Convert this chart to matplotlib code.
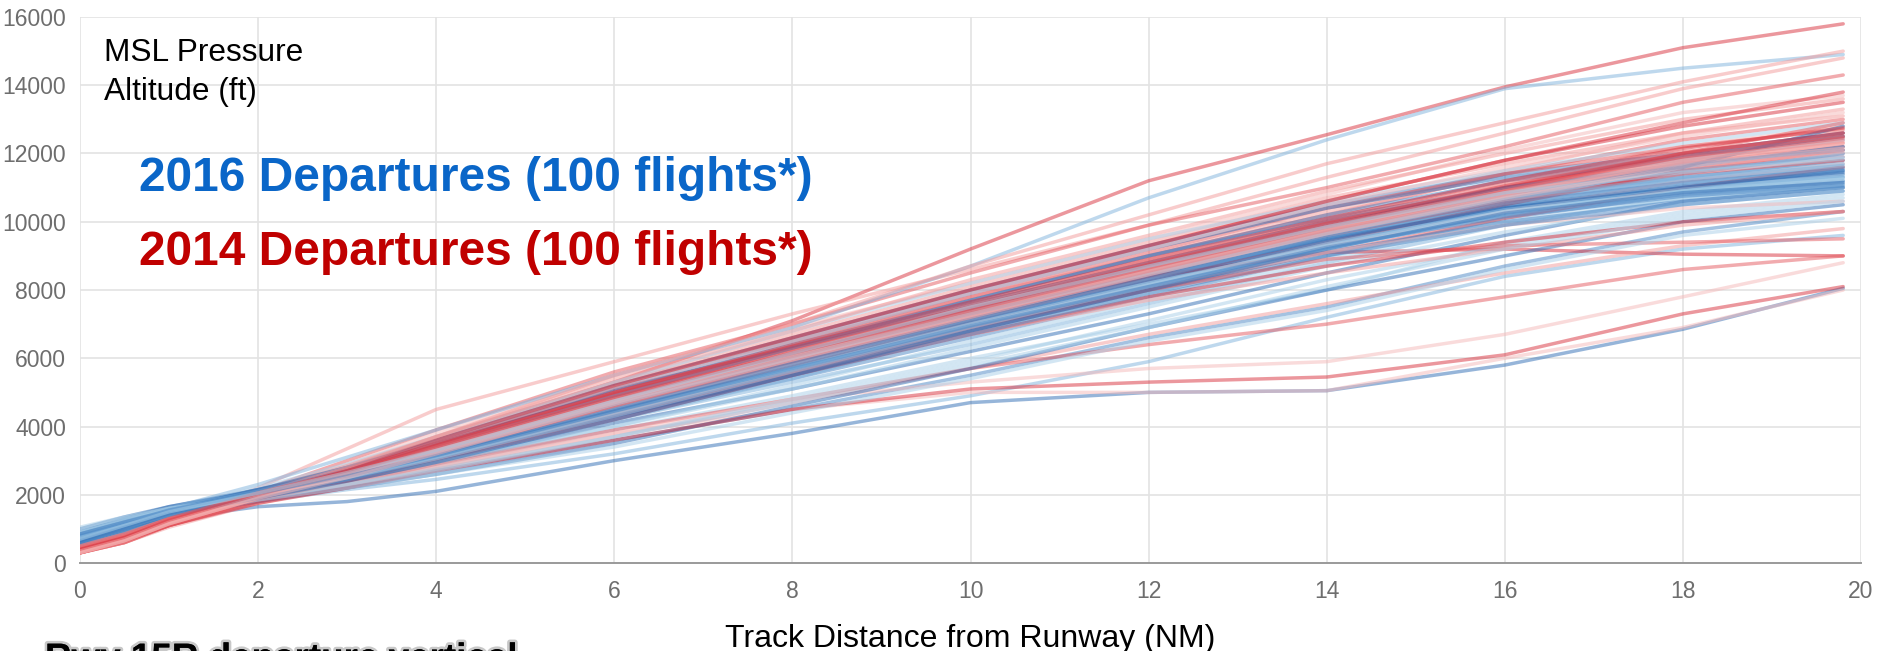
import matplotlib
matplotlib.use("Agg")
import matplotlib.pyplot as plt
import matplotlib.patheffects as pe

plt.rcParams['font.family'] = ['Liberation Sans', 'DejaVu Sans']

# Track distance (NM) at which each altitude profile is sampled
distance_nm = [0, 0.5, 1, 2, 3, 4, 6, 8, 10, 12, 14, 16, 18, 19.8]

# 2016 departures: MSL pressure altitude (ft) at each distance
alt_2016 = [
    [600, 950, 1300, 1650, 1800, 2100, 3000, 3800, 4700, 5000, 5050, 5800, 6850, 8050],
    [700, 1050, 1400, 1800, 2150, 2450, 3200, 4100, 4900, 5900, 7200, 8400, 9200, 9600],
    [800, 1150, 1450, 1850, 2250, 2700, 3600, 4500, 5500, 6600, 7500, 8700, 9700, 10300],
    [550, 950, 1350, 1850, 2300, 2800, 3900, 4900, 6000, 7000, 8000, 9400, 10300, 10800],
    [650, 1100, 1500, 1900, 2350, 2900, 4100, 5100, 6200, 7300, 8500, 9600, 10600, 11000],
    [900, 1250, 1550, 1950, 2400, 3000, 4200, 5300, 6400, 7600, 8800, 9900, 10700, 11100],
    [600, 1000, 1450, 1900, 2450, 3050, 4300, 5400, 6600, 7800, 9000, 10100, 10800, 11200],
    [750, 1150, 1500, 2000, 2500, 3100, 4350, 5500, 6700, 7900, 9200, 10300, 10900, 11300],
    [500, 900, 1400, 1950, 2400, 3000, 4400, 5600, 6900, 8100, 9300, 10400, 11000, 11400],
    [850, 1200, 1550, 2000, 2550, 3200, 4500, 5700, 7000, 8200, 9400, 10500, 11100, 11500],
    [650, 1050, 1450, 1950, 2500, 3150, 4550, 5800, 7100, 8300, 9500, 10600, 11200, 11600],
    [700, 1100, 1500, 2050, 2600, 3250, 4600, 5900, 7200, 8400, 9600, 10500, 11000, 11300],
    [1000, 1350, 1650, 2100, 2600, 3300, 4700, 6000, 7300, 8500, 9700, 10700, 11300, 11800],
    [600, 1000, 1400, 1950, 2450, 3000, 4200, 5400, 6800, 8000, 9300, 10400, 10900, 11200],
    [800, 1200, 1550, 2050, 2650, 3350, 4800, 6100, 7400, 8600, 9800, 10800, 11400, 12000],
    [550, 950, 1400, 1900, 2350, 2850, 4000, 5200, 6500, 7700, 8900, 10000, 10700, 11000],
    [900, 1300, 1650, 2150, 2700, 3450, 4900, 6300, 7600, 8800, 10000, 11000, 11600, 12200],
    [700, 1100, 1500, 2000, 2500, 3100, 4400, 5700, 7000, 8200, 9400, 10200, 10800, 11100],
    [750, 1150, 1550, 2100, 2750, 3500, 5000, 6400, 7700, 9000, 10200, 11200, 11800, 12400],
    [650, 1050, 1500, 2200, 2900, 3700, 5300, 6800, 8200, 9500, 10600, 11500, 12300, 12900],
    [850, 1250, 1600, 2150, 2700, 3300, 4600, 5900, 7200, 8400, 9500, 10400, 11000, 11500],
    [700, 1150, 1600, 2300, 3100, 3900, 5500, 6900, 8700, 10700, 12400, 13900, 14500, 14900],
    [600, 1050, 1500, 2100, 2800, 3600, 5200, 6600, 8000, 9300, 10500, 11400, 12000, 12600],
    [950, 1300, 1600, 2000, 2450, 2950, 4000, 5100, 6300, 7500, 8700, 9700, 10500, 10900],
    [500, 900, 1350, 1800, 2200, 2600, 3500, 4600, 5700, 6900, 8000, 9000, 10000, 10500],
    [800, 1200, 1550, 2050, 2550, 3200, 4500, 5800, 7100, 8300, 9600, 10700, 11300, 11700],
    [600, 1000, 1450, 2000, 2550, 3150, 4400, 5600, 6800, 8000, 9100, 10000, 10600, 11000],
    [750, 1100, 1450, 1900, 2300, 2750, 3700, 4800, 5900, 7100, 8300, 9300, 10200, 10700],
    [650, 1100, 1550, 2150, 2800, 3550, 5100, 6500, 7900, 9200, 10400, 11300, 11900, 12500],
    [900, 1250, 1600, 2100, 2650, 3300, 4700, 6100, 7500, 8700, 9900, 10900, 11500, 11900],
    [550, 1000, 1450, 2000, 2500, 3100, 4300, 5500, 6700, 7900, 9000, 9900, 10500, 10900],
    [700, 1050, 1400, 1850, 2200, 2600, 3400, 4400, 5400, 6500, 7400, 8600, 9600, 10100],
    [850, 1200, 1500, 2000, 2600, 3250, 4650, 6000, 7300, 8500, 9700, 10800, 11600, 12800],
    [600, 1000, 1450, 1950, 2450, 3050, 4300, 5600, 6900, 8100, 9200, 10200, 10900, 11300],
    [750, 1150, 1550, 2100, 2700, 3400, 4900, 6300, 7700, 9000, 10100, 11000, 11700, 12100],
    [1050, 1350, 1600, 1950, 2300, 2700, 3700, 4700, 5800, 6900, 8100, 9200, 10100, 10600],
    [700, 1100, 1500, 2000, 2500, 3100, 4450, 5750, 7050, 8250, 9450, 10450, 11050, 11450],
    [800, 1150, 1500, 1950, 2450, 3050, 4350, 5650, 6950, 8150, 9350, 10350, 10950, 11350],
    [650, 1050, 1450, 1950, 2500, 3150, 4500, 5850, 7150, 8350, 9550, 10550, 11150, 11550],
    [900, 1250, 1550, 2000, 2500, 3100, 4400, 5700, 7000, 8200, 9300, 10300, 10900, 11250],
    [600, 1000, 1400, 1900, 2400, 2950, 4200, 5500, 6800, 8000, 9200, 10250, 10850, 11150],
    [750, 1150, 1550, 2050, 2600, 3250, 4650, 6000, 7300, 8450, 9650, 10650, 11250, 11650],
    [850, 1200, 1550, 2050, 2550, 3150, 4450, 5700, 6950, 8100, 9250, 10150, 10750, 11050],
    [700, 1100, 1500, 2050, 2650, 3300, 4750, 6150, 7500, 8700, 9850, 10850, 11450, 11850],
]

# 2014 departures: MSL pressure altitude (ft) at each distance
alt_2014 = [
    [350, 700, 1200, 2000, 2800, 3700, 5300, 7100, 9200, 11200, 12550, 13950, 15100, 15800],
    [400, 750, 1250, 2200, 3350, 4500, 5900, 7300, 8600, 9900, 11300, 12600, 13900, 14800],
    [300, 650, 1150, 2100, 3000, 3900, 5600, 7000, 8500, 9900, 11000, 12200, 13500, 14300],
    [450, 800, 1300, 2100, 2900, 3800, 5500, 6900, 8200, 9500, 10800, 12100, 13200, 13700],
    [350, 700, 1200, 2000, 2700, 3500, 5200, 6600, 8000, 9300, 10600, 11800, 12800, 13500],
    [400, 750, 1250, 2050, 2750, 3600, 5300, 6500, 7800, 9000, 10300, 11500, 12600, 13300],
    [300, 650, 1150, 1950, 2650, 3400, 5000, 6400, 7700, 9000, 10200, 11400, 12400, 13000],
    [500, 850, 1300, 2000, 2600, 3300, 4900, 6300, 7600, 8900, 10100, 11200, 12200, 12800],
    [350, 700, 1200, 1950, 2600, 3350, 4950, 6200, 7500, 8800, 10000, 11000, 11900, 12500],
    [450, 800, 1250, 2000, 2650, 3400, 4800, 6100, 7400, 8700, 9900, 10900, 11800, 12300],
    [300, 600, 1100, 1900, 2550, 3250, 4700, 6000, 7300, 8600, 9800, 10800, 11700, 12200],
    [400, 750, 1200, 1950, 2500, 3200, 4600, 5900, 7200, 8500, 9700, 10700, 11600, 12000],
    [350, 700, 1200, 2000, 2700, 3500, 5100, 6300, 7500, 8700, 9900, 11000, 12000, 12600],
    [500, 850, 1300, 2050, 2700, 3450, 4900, 6200, 7500, 8700, 9600, 10600, 11500, 11900],
    [300, 650, 1150, 1900, 2500, 3150, 4500, 5800, 7100, 8400, 9600, 10600, 11400, 11800],
    [400, 750, 1250, 2000, 2550, 3200, 4550, 5800, 7000, 8200, 9300, 10300, 11200, 11700],
    [350, 700, 1200, 1950, 2600, 3300, 4700, 6000, 7200, 8300, 9400, 10500, 11500, 12100],
    [450, 800, 1300, 2100, 2800, 3650, 5300, 6700, 8100, 9400, 10700, 11700, 12600, 13100],
    [300, 600, 1100, 1850, 2400, 3000, 4200, 5500, 6800, 8000, 9100, 10100, 11000, 11600],
    [350, 650, 1100, 1800, 2300, 2800, 3800, 4500, 5000, 5000, 5050, 6000, 6900, 8000],
    [400, 750, 1200, 1950, 2600, 3300, 4700, 6000, 7300, 8400, 9100, 9200, 9050, 9000],
    [300, 600, 1050, 1750, 2250, 2750, 3700, 4700, 5700, 6700, 7600, 8500, 9300, 9800],
    [350, 650, 1100, 1800, 2300, 2900, 3900, 4800, 5700, 6400, 7000, 7800, 8600, 9000],
    [400, 700, 1150, 1800, 2300, 2850, 3800, 4800, 5300, 5700, 5900, 6700, 7800, 8800],
    [350, 650, 1100, 1750, 2200, 2700, 3600, 4500, 5100, 5300, 5450, 6100, 7300, 8100],
    [400, 750, 1250, 2100, 2850, 3700, 5400, 6800, 8300, 9600, 10900, 12000, 13000, 13600],
    [300, 650, 1150, 1950, 2650, 3450, 5000, 6400, 7800, 9100, 10400, 11400, 12200, 12700],
    [450, 800, 1250, 1950, 2550, 3250, 4600, 5800, 7000, 8100, 9100, 9900, 10400, 10600],
    [350, 700, 1200, 1900, 2450, 3050, 4300, 5500, 6700, 7800, 8700, 9400, 10000, 10300],
    [400, 750, 1200, 1900, 2500, 3100, 4400, 5600, 6700, 7700, 8500, 9200, 9900, 10300],
    [300, 600, 1100, 1850, 2400, 3050, 4350, 5600, 6900, 8000, 8900, 9300, 9400, 9500],
    [500, 850, 1300, 2050, 2750, 3550, 5150, 6500, 7900, 9200, 10500, 11600, 12500, 13200],
    [350, 700, 1200, 2000, 2750, 3600, 5200, 6600, 8000, 9300, 10600, 11800, 12900, 13800],
    [400, 750, 1250, 2050, 2800, 3700, 5500, 7000, 8700, 10200, 11700, 12900, 14100, 15000],
    [300, 650, 1150, 1900, 2500, 3200, 4600, 5900, 7200, 8500, 9700, 10900, 12000, 12900],
    [450, 800, 1250, 2000, 2600, 3300, 4700, 6000, 7300, 8600, 9800, 10800, 11800, 12400],
    [400, 750, 1250, 2000, 2650, 3400, 4850, 6150, 7450, 8750, 9950, 11050, 12000, 12600],
    [350, 700, 1200, 1950, 2600, 3350, 4800, 6100, 7350, 8600, 9800, 10900, 11850, 12350],
    [450, 800, 1300, 2050, 2700, 3450, 4950, 6250, 7550, 8800, 10000, 11100, 12050, 12500],
    [300, 650, 1150, 1900, 2550, 3250, 4700, 6000, 7250, 8500, 9700, 10750, 11700, 12150],
    [400, 750, 1250, 2000, 2700, 3500, 5000, 6350, 7650, 8900, 10100, 11200, 12150, 12750],
    [350, 700, 1200, 1950, 2600, 3300, 4750, 6050, 7300, 8550, 9750, 10800, 11750, 12300],
    [500, 850, 1300, 2050, 2650, 3400, 4850, 6150, 7400, 8650, 9850, 10950, 11900, 12450],
    [300, 650, 1150, 1900, 2500, 3200, 4650, 5950, 7200, 8450, 9650, 10700, 11600, 12050],
]

x_ticks = [0, 2, 4, 6, 8, 10, 12, 14, 16, 18, 20]
y_ticks = [0, 2000, 4000, 6000, 8000, 10000, 12000, 14000, 16000]

blue_shades = ['#2f6db5', '#7fb2dc', '#4a86c5', '#a9cfe8']
red_shades = ['#d9303c', '#f39a9a', '#e5585f', '#f5b8b8']

W, H = 1881, 651
fig = plt.figure(figsize=(W / 100, H / 100), dpi=100)
ax = fig.add_axes([80 / W, 88 / H, (1861 - 80) / W, (563 - 17) / H])

n = max(len(alt_2016), len(alt_2014))
for i in range(n):
    if i < len(alt_2016):
        ax.plot(distance_nm, alt_2016[i], color=blue_shades[i % 4],
                lw=2.5, alpha=0.5, solid_capstyle='round',
                solid_joinstyle='round')
    if i < len(alt_2014):
        ax.plot(distance_nm, alt_2014[i], color=red_shades[i % 4],
                lw=2.5, alpha=0.5, solid_capstyle='round',
                solid_joinstyle='round')

ax.set_xlim(0, 20)
ax.set_ylim(0, 16000)
ax.set_xticks(x_ticks)
ax.set_yticks(y_ticks)
ax.set_xticklabels([str(v) for v in x_ticks])
ax.set_yticklabels([str(v) for v in y_ticks])
ax.grid(True, color='#e3e3e3', lw=1.2)
ax.set_axisbelow(True)
for side in ['top', 'right', 'left']:
    ax.spines[side].set_visible(False)
ax.spines['bottom'].set_color('#9a9a9a')
ax.spines['bottom'].set_linewidth(1.4)
ax.tick_params(axis='both', length=0, labelsize=16.5, labelcolor='#6e6e6e')
ax.tick_params(axis='y', pad=10)
ax.tick_params(axis='x', pad=12)

ax.set_xlabel('Track Distance from Runway (NM)', fontsize=23, color='black')
ax.xaxis.set_label_coords(0.5, -0.153, transform=ax.transAxes)
ax.xaxis.label.set_va('baseline')

fig.text(104 / W, 1 - 61 / H, 'MSL Pressure', fontsize=22.8, color='black',
         va='baseline', ha='left')
fig.text(104 / W, 1 - 100 / H, 'Altitude (ft)', fontsize=22.8, color='black',
         va='baseline', ha='left')

fig.text(139 / W, 1 - 191 / H, '2016 Departures (100 flights*)', fontsize=34.5,
         fontweight='bold', color='#0a66c8', va='baseline', ha='left')
fig.text(139 / W, 1 - 265 / H, '2014 Departures (100 flights*)', fontsize=34.5,
         fontweight='bold', color='#c00000', va='baseline', ha='left')

fig.text(45 / W, 1 - 669 / H, 'Rwy 15R departure vertical', fontsize=26.5,
         fontweight='bold', color='black', va='baseline', ha='left',
         path_effects=[pe.withStroke(linewidth=4, foreground='#c8c8c8'),
                       pe.Normal()])

fig.savefig('out.png', dpi=100, facecolor='white')
